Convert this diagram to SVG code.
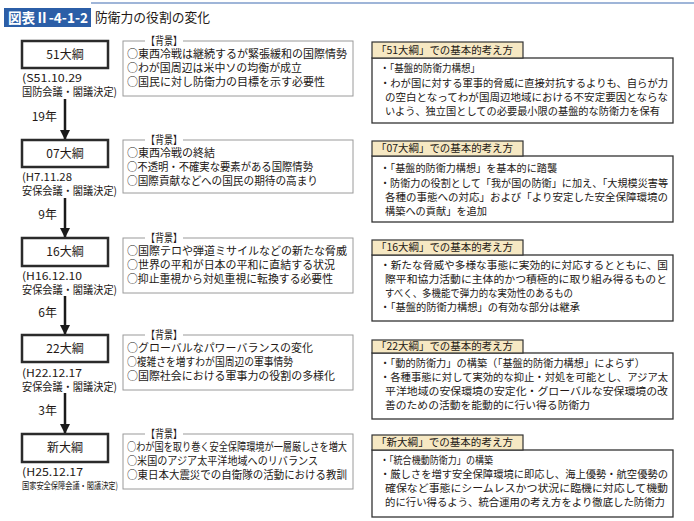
<svg xmlns="http://www.w3.org/2000/svg" width="694" height="521" viewBox="0 0 694 521">
<defs>
<style>
text{font-family:"Noto Sans CJK JP","Noto Sans",sans-serif;fill:#231815}
.t{font-size:11px}
.r{font-size:10.5px}
.nd{font-size:12px;text-anchor:middle}
.dt{font-size:11px}
.yr{font-size:12px;text-anchor:end}
.node{fill:#fff;stroke:#2b2b2b;stroke-width:2.5}
.bg{fill:#fff;stroke:#9a9a9a;stroke-width:1}
.tab{fill:#f6e8c3;stroke:#333;stroke-width:1.2}
.box{fill:#fff;stroke:#333;stroke-width:1.3}
.lbl{fill:#fff}
.conn{stroke:#1a1a1a;stroke-width:2.5;fill:none;marker-end:url(#ah)}
</style>
<marker id="ah" viewBox="0 0 10 10" refX="9" refY="5" markerWidth="4" markerHeight="4" orient="auto" markerUnits="strokeWidth">
<path d="M0,0 L10,5 L0,10 z" fill="#1a1a1a"/>
</marker>
</defs>
<rect width="694" height="521" fill="#fff"/>
<g id="title">
<line x1="91" y1="3" x2="694" y2="3" stroke="#9fb5d8" stroke-width="2"/>
<rect x="4" y="8" width="87" height="19" fill="#2b5ea7"/>
<text x="8" y="23" style="font-size:14px;font-weight:bold;fill:#fff" textLength="80" lengthAdjust="spacingAndGlyphs">図表Ⅱ-4-1-2</text>
<text x="95" y="22" style="font-size:13px" textLength="115" lengthAdjust="spacingAndGlyphs">防衛力の役割の変化</text>
</g>
<g id="connectors">
<line class="conn" x1="65" y1="99" x2="65" y2="139"/>
<line class="conn" x1="65" y1="198" x2="65" y2="237"/>
<line class="conn" x1="65" y1="296" x2="65" y2="334"/>
<line class="conn" x1="65" y1="393" x2="65" y2="433"/>
<text class="yr" x="57" y="121">19年</text>
<text class="yr" x="57" y="219">9年</text>
<text class="yr" x="57" y="317">6年</text>
<text class="yr" x="57" y="415">3年</text>
</g>
<g id="n51">
<rect class="node" x="22" y="41" width="86" height="27"/>
<text class="nd" x="65" y="59">51大綱</text>
<text class="dt" x="22" y="82" textLength="60" lengthAdjust="spacingAndGlyphs">(S51.10.29</text>
<text class="dt" x="22" y="96" textLength="95" lengthAdjust="spacingAndGlyphs">国防会議・閣議決定)</text>
</g>
<g id="bg51">
<rect class="bg" x="123" y="41" width="230" height="55"/>
<rect class="lbl" x="145" y="35" width="38" height="12"/>
<text class="t" x="146" y="45" textLength="36" lengthAdjust="spacingAndGlyphs">【背景】</text>
<text class="t" x="127" y="58" textLength="220" lengthAdjust="spacingAndGlyphs">○東西冷戦は継続するが緊張緩和の国際情勢</text>
<text class="t" x="127" y="72" textLength="175" lengthAdjust="spacingAndGlyphs">○わが国周辺は米中ソの均衡が成立</text>
<text class="t" x="127" y="86" textLength="198" lengthAdjust="spacingAndGlyphs">○国民に対し防衛力の目標を示す必要性</text>
</g>
<g id="c51">
<rect class="box" x="372" y="58" width="301" height="65"/>
<rect class="tab" x="372" y="42" width="151" height="16"/>
<text class="r" x="376" y="54" textLength="137" lengthAdjust="spacingAndGlyphs">「51大綱」での基本的考え方</text>
<text class="r" x="380" y="72" textLength="100" lengthAdjust="spacingAndGlyphs">・「基盤的防衛力構想」</text>
<text class="r" x="380" y="87" textLength="288" lengthAdjust="spacingAndGlyphs">・わが国に対する軍事的脅威に直接対抗するよりも、自らが力</text>
<text class="r" x="385" y="101" textLength="283" lengthAdjust="spacingAndGlyphs">の空白となってわが国周辺地域における不安定要因とならな</text>
<text class="r" x="385" y="115" textLength="275" lengthAdjust="spacingAndGlyphs">いよう、独立国としての必要最小限の基盤的な防衛力を保有</text>
</g>
<g id="n07">
<rect class="node" x="22" y="140" width="86" height="27"/>
<text class="nd" x="65" y="158">07大綱</text>
<text class="dt" x="22" y="181" textLength="50" lengthAdjust="spacingAndGlyphs">(H7.11.28</text>
<text class="dt" x="22" y="195" textLength="95" lengthAdjust="spacingAndGlyphs">安保会議・閣議決定)</text>
</g>
<g id="bg07">
<rect class="bg" x="123" y="140" width="230" height="53"/>
<rect class="lbl" x="145" y="134" width="38" height="12"/>
<text class="t" x="146" y="144" textLength="36" lengthAdjust="spacingAndGlyphs">【背景】</text>
<text class="t" x="127" y="157">○東西冷戦の終結</text>
<text class="t" x="127" y="171" textLength="186" lengthAdjust="spacingAndGlyphs">○不透明・不確実な要素がある国際情勢</text>
<text class="t" x="127" y="185" textLength="191" lengthAdjust="spacingAndGlyphs">○国際貢献などへの国民の期待の高まり</text>
</g>
<g id="c07">
<rect class="box" x="372" y="156" width="301" height="66"/>
<rect class="tab" x="372" y="141" width="151" height="15"/>
<text class="r" x="376" y="152" textLength="137" lengthAdjust="spacingAndGlyphs">「07大綱」での基本的考え方</text>
<text class="r" x="380" y="172" textLength="177" lengthAdjust="spacingAndGlyphs">・「基盤的防衛力構想」を基本的に踏襲</text>
<text class="r" x="380" y="187" textLength="288" lengthAdjust="spacingAndGlyphs">・防衛力の役割として「我が国の防衛」に加え、「大規模災害等</text>
<text class="r" x="385" y="201" textLength="283" lengthAdjust="spacingAndGlyphs">各種の事態への対応」および「より安定した安全保障環境の</text>
<text class="r" x="385" y="215" textLength="102" lengthAdjust="spacingAndGlyphs">構築への貢献」を追加</text>
</g>
<g id="n16">
<rect class="node" x="22" y="238" width="86" height="28"/>
<text class="nd" x="65" y="256">16大綱</text>
<text class="dt" x="22" y="280" textLength="60" lengthAdjust="spacingAndGlyphs">(H16.12.10</text>
<text class="dt" x="22" y="294" textLength="95" lengthAdjust="spacingAndGlyphs">安保会議・閣議決定)</text>
</g>
<g id="bg16">
<rect class="bg" x="123" y="238" width="230" height="55"/>
<rect class="lbl" x="145" y="232" width="38" height="12"/>
<text class="t" x="146" y="242" textLength="36" lengthAdjust="spacingAndGlyphs">【背景】</text>
<text class="t" x="127" y="255" textLength="220" lengthAdjust="spacingAndGlyphs">○国際テロや弾道ミサイルなどの新たな脅威</text>
<text class="t" x="127" y="269" textLength="208" lengthAdjust="spacingAndGlyphs">○世界の平和が日本の平和に直結する状況</text>
<text class="t" x="127" y="283" textLength="206" lengthAdjust="spacingAndGlyphs">○抑止重視から対処重視に転換する必要性</text>
</g>
<g id="c16">
<rect class="box" x="372" y="255" width="301" height="66"/>
<rect class="tab" x="372" y="240" width="151" height="15"/>
<text class="r" x="376" y="251" textLength="137" lengthAdjust="spacingAndGlyphs">「16大綱」での基本的考え方</text>
<text class="r" x="380" y="269" textLength="288" lengthAdjust="spacingAndGlyphs">・新たな脅威や多様な事態に実効的に対応するとともに、国</text>
<text class="r" x="385" y="283" textLength="282" lengthAdjust="spacingAndGlyphs">際平和協力活動に主体的かつ積極的に取り組み得るものと</text>
<text class="r" x="385" y="297" textLength="188" lengthAdjust="spacingAndGlyphs">すべく、多機能で弾力的な実効性のあるもの</text>
<text class="r" x="380" y="311" textLength="200" lengthAdjust="spacingAndGlyphs">・「基盤的防衛力構想」の有効な部分は継承</text>
</g>
<g id="n22">
<rect class="node" x="22" y="335" width="86" height="27"/>
<text class="nd" x="65" y="353">22大綱</text>
<text class="dt" x="22" y="377" textLength="60" lengthAdjust="spacingAndGlyphs">(H22.12.17</text>
<text class="dt" x="22" y="391" textLength="95" lengthAdjust="spacingAndGlyphs">安保会議・閣議決定)</text>
</g>
<g id="bg22">
<rect class="bg" x="123" y="335" width="230" height="55"/>
<rect class="lbl" x="145" y="329" width="38" height="12"/>
<text class="t" x="146" y="339" textLength="36" lengthAdjust="spacingAndGlyphs">【背景】</text>
<text class="t" x="127" y="352" textLength="186" lengthAdjust="spacingAndGlyphs">○グローバルなパワーバランスの変化</text>
<text class="t" x="127" y="366" textLength="166" lengthAdjust="spacingAndGlyphs">○複雑さを増すわが国周辺の軍事情勢</text>
<text class="t" x="127" y="380" textLength="208" lengthAdjust="spacingAndGlyphs">○国際社会における軍事力の役割の多様化</text>
</g>
<g id="c22">
<rect class="box" x="372" y="353" width="301" height="66"/>
<rect class="tab" x="372" y="340" width="151" height="13"/>
<text class="r" x="376" y="350" textLength="137" lengthAdjust="spacingAndGlyphs">「22大綱」での基本的考え方</text>
<text class="r" x="380" y="367" textLength="265" lengthAdjust="spacingAndGlyphs">・「動的防衛力」の構築（「基盤的防衛力構想」によらず）</text>
<text class="r" x="380" y="381" textLength="288" lengthAdjust="spacingAndGlyphs">・各種事態に対して実効的な抑止・対処を可能とし、アジア太</text>
<text class="r" x="385" y="395" textLength="283" lengthAdjust="spacingAndGlyphs">平洋地域の安保環境の安定化・グローバルな安保環境の改</text>
<text class="r" x="385" y="409" textLength="205" lengthAdjust="spacingAndGlyphs">善のための活動を能動的に行い得る防衛力</text>
</g>
<g id="nNew">
<rect class="node" x="22" y="434" width="86" height="28"/>
<text class="nd" x="65" y="452">新大綱</text>
<text class="dt" x="22" y="476" textLength="61" lengthAdjust="spacingAndGlyphs">(H25.12.17</text>
<text x="22" y="489" style="font-size:9.5px" textLength="96" lengthAdjust="spacingAndGlyphs">国家安全保障会議・閣議決定)</text>
</g>
<g id="bgNew">
<rect class="bg" x="123" y="434" width="230" height="55"/>
<rect class="lbl" x="145" y="428" width="38" height="12"/>
<text class="t" x="146" y="438" textLength="36" lengthAdjust="spacingAndGlyphs">【背景】</text>
<text class="t" x="127" y="451" textLength="220" lengthAdjust="spacingAndGlyphs">○わが国を取り巻く安全保障環境が一層厳しさを増大</text>
<text class="t" x="127" y="465" textLength="191" lengthAdjust="spacingAndGlyphs">○米国のアジア太平洋地域へのリバランス</text>
<text class="t" x="127" y="479" textLength="220" lengthAdjust="spacingAndGlyphs">○東日本大震災での自衛隊の活動における教訓</text>
</g>
<g id="cNew">
<rect class="box" x="372" y="450" width="301" height="67"/>
<rect class="tab" x="372" y="435" width="151" height="15"/>
<text class="r" x="376" y="446" textLength="137" lengthAdjust="spacingAndGlyphs">「新大綱」での基本的考え方</text>
<text class="r" x="380" y="464" textLength="113" lengthAdjust="spacingAndGlyphs">・「統合機動防衛力」の構築</text>
<text class="r" x="380" y="478" textLength="288" lengthAdjust="spacingAndGlyphs">・厳しさを増す安全保障環境に即応し、海上優勢・航空優勢の</text>
<text class="r" x="385" y="492" textLength="283" lengthAdjust="spacingAndGlyphs">確保など事態にシームレスかつ状況に臨機に対応して機動</text>
<text class="r" x="385" y="506" textLength="280" lengthAdjust="spacingAndGlyphs">的に行い得るよう、統合運用の考え方をより徹底した防衛力</text>
</g>
</svg>
